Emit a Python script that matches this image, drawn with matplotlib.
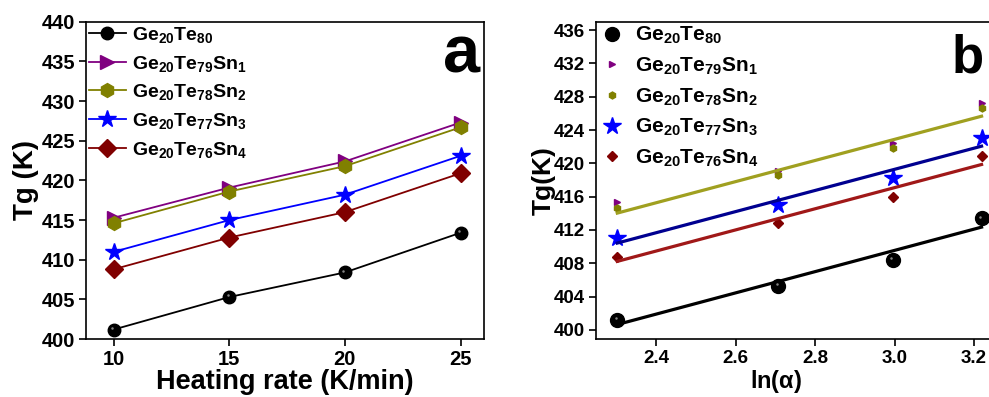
import numpy as np
from matplotlib import pyplot as plt
from matplotlib.transforms import ScaledTranslation

plt.rcParams['font.family'] = 'Liberation Sans'
plt.rcParams['font.weight'] = 'bold'
plt.rcParams['mathtext.fontset'] = 'custom'
plt.rcParams['mathtext.bf'] = 'Liberation Sans:bold'
plt.rcParams['mathtext.rm'] = 'Liberation Sans:bold'
plt.rcParams['mathtext.default'] = 'bf'

# * Heating rates (K/min) and glass transition temperatures (K)
rates = [10, 15, 20, 25]
ln_rates = np.log(rates)
labels = ['Ge$_{20}$Te$_{80}$', 'Ge$_{20}$Te$_{79}$Sn$_{1}$', 'Ge$_{20}$Te$_{78}$Sn$_{2}$',
          'Ge$_{20}$Te$_{77}$Sn$_{3}$', 'Ge$_{20}$Te$_{76}$Sn$_{4}$']
tg_sn0 = [401.2, 405.3, 408.4, 413.4]
tg_sn1 = [415.3, 419.1, 422.4, 427.3]
tg_sn2 = [414.6, 418.6, 421.8, 426.7]
tg_sn3 = [411.0, 415.0, 418.2, 423.1]
tg_sn4 = [408.8, 412.8, 416.0, 420.9]
series = [tg_sn0, tg_sn1, tg_sn2, tg_sn3, tg_sn4]

# * Style per series: colour, marker, size in panel a, size in panel b, fit colour
colors = ['black', '#800080', '#808000', '#0000ff', '#800000']
markers = ['o', '>', 'h', '*', 'D']
ms_a = [9, 10, 10, 13, 9]
ms_b = [10, 5, 5, 13, 5]
fit_colors = ['black', None, '#a0a020', '#000090', '#a01818']  # Sn1 fit hidden

fig = plt.figure(figsize=(9.89, 3.97), dpi=100)
ax_a = fig.add_axes([0.087, 0.146, 0.402, 0.799])
ax_b = fig.add_axes([0.603, 0.146, 0.402, 0.799])

highlight = ScaledTranslation(-1.2 / 72, 1.2 / 72, fig.dpi_scale_trans)

# * Panel a
for tg, lab, c, m, ms in zip(series, labels, colors, markers, ms_a):
    ax_a.plot(rates, tg, '-', color=c, lw=1.3, marker=m, ms=ms,
              mfc=c, mec=c, label=lab)
ax_a.plot(rates, tg_sn0, 'o', ms=1.8, color='#dddddd', alpha=0.6, mew=0,
          transform=ax_a.transData + highlight)
ax_a.set_xlim(8.8, 26.0)
ax_a.set_ylim(400, 440)
ax_a.set_xticks([10, 15, 20, 25])
ax_a.set_yticks(range(400, 441, 5))
ax_a.tick_params(labelsize=14.5, length=5, width=1.2, pad=3)
ax_a.set_xlabel('Heating rate (K/min)', fontsize=19.5, fontweight='bold', labelpad=0)
ax_a.set_ylabel('Tg (K)', fontsize=20, fontweight='bold', labelpad=2)
ax_a.legend(loc='upper left', fontsize=14, frameon=False, handlelength=1.9,
            handletextpad=0.3, labelspacing=0.45, borderaxespad=0.0,
            borderpad=0.15)
ax_a.text(0.99, 0.84, 'a', transform=ax_a.transAxes, ha='right', va='baseline',
          fontsize=48, fontweight='bold')

# * Panel b: points and linear fits against ln(rate)
for tg, lab, c, m, ms in zip(series, labels, colors, markers, ms_b):
    ax_b.plot(ln_rates, tg, ls='none', marker=m, ms=ms, mfc=c, mec=c, label=lab)
for tg, fc in zip(series, fit_colors):
    if fc is None:
        continue
    k, b = np.polyfit(ln_rates, tg, 1)
    ax_b.plot(ln_rates[[0, -1]], k * ln_rates[[0, -1]] + b, '-', color=fc, lw=2.3)
ax_b.plot(ln_rates, tg_sn0, 'o', ms=1.8, color='#dddddd', alpha=0.6, mew=0,
          transform=ax_b.transData + highlight)
ax_b.set_xlim(2.25, 3.25)
ax_b.set_ylim(398.9, 437.0)
ax_b.set_xticks([2.4, 2.6, 2.8, 3.0, 3.2])
ax_b.set_yticks(range(400, 437, 4))
ax_b.tick_params(labelsize=13.5, length=5, width=1.2, pad=3)
ax_b.set_xlabel(r'ln($\alpha$)', fontsize=17, fontweight='bold')
ax_b.xaxis.set_label_coords(0.453, -0.092)
ax_b.set_ylabel('Tg(K)', fontsize=19, fontweight='bold', labelpad=-1)
ax_b.legend(loc='upper left', fontsize=15, frameon=False, handlelength=1.2,
            handletextpad=0.5, labelspacing=0.45, borderaxespad=0.0,
            borderpad=0.15)
ax_b.text(0.975, 0.84, 'b', transform=ax_b.transAxes, ha='right', va='baseline',
          fontsize=38, fontweight='bold')

for ax in (ax_a, ax_b):
    for s in ax.spines.values():
        s.set_linewidth(1.2)

fig.savefig('out.png', dpi=100)
